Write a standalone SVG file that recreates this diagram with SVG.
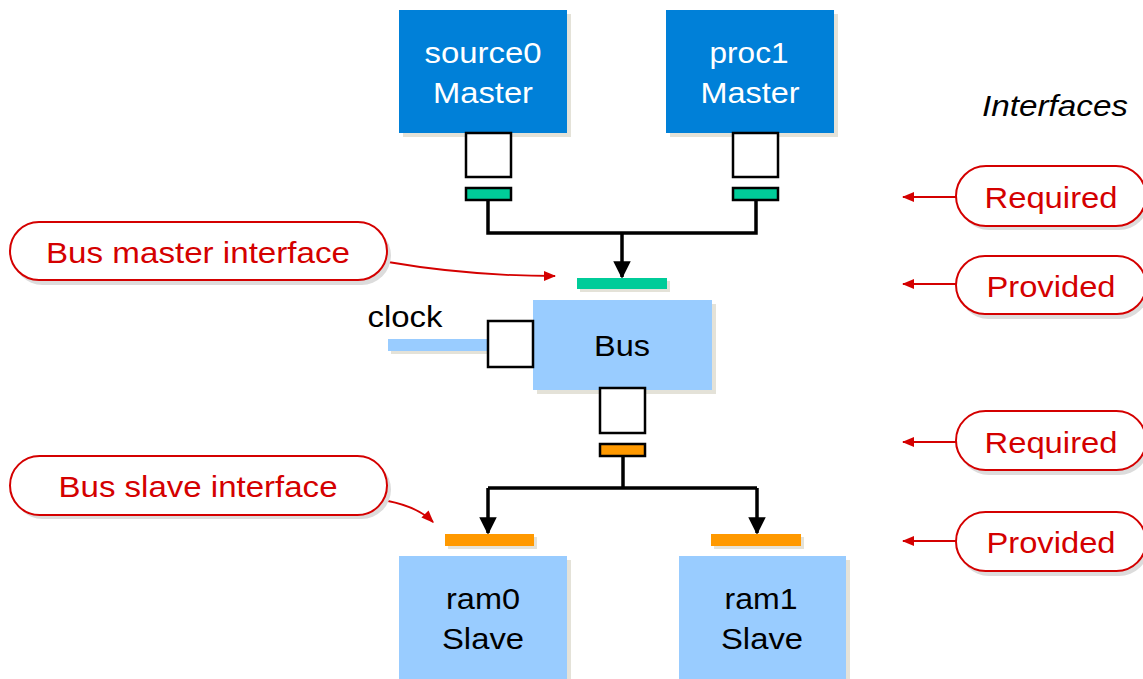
<svg xmlns="http://www.w3.org/2000/svg" width="1143" height="679" viewBox="0 0 1143 679">
<defs>
<style>
.t{font-family:"Liberation Sans",Arial,sans-serif;font-size:30px;text-anchor:middle}
.w{fill:#ffffff}
.k{fill:#000000}
.r{fill:#d40000}
.master{fill:#0080d8}
.slave{fill:#99ccff}
.sh{fill:#e4e2d8}
.port{fill:#ffffff;stroke:#000;stroke-width:2.5}
.gp{fill:#00cc99;stroke:#000;stroke-width:2.5}
.op{fill:#ff9900;stroke:#000;stroke-width:2.5}
.pill{fill:#fff;stroke:#d40000;stroke-width:2}
.pillsh{fill:#dcdcdc}
.wire{fill:none;stroke:#000;stroke-width:3.5}
.rw{fill:none;stroke:#d40000;stroke-width:1.8}
</style>
<marker id="ab" viewBox="0 0 10 10" refX="9" refY="5" markerWidth="5" markerHeight="5" orient="auto" markerUnits="strokeWidth"><path d="M0,0 L10,5 L0,10 z" fill="#000"/></marker>
<marker id="ar" viewBox="0 0 10 10" refX="9" refY="5" markerWidth="7" markerHeight="7" orient="auto" markerUnits="strokeWidth"><path d="M0,1 L10,5 L0,9 z" fill="#d40000"/></marker>
</defs>
<rect width="1143" height="679" fill="#fff"/>

<g id="connectors">
<path class="wire" d="M488,200 V233 H756 V200"/>
<path class="wire" d="M622,233 V277" marker-end="url(#ab)"/>
<path class="wire" d="M623,457 V488"/>
<path class="wire" d="M488,488 H757"/>
<path class="wire" d="M488,488 V533" marker-end="url(#ab)"/>
<path class="wire" d="M757,488 V533" marker-end="url(#ab)"/>
<path class="rw" d="M388,262 C440,271 490,276 555,276" marker-end="url(#ar)"/>
<path class="rw" d="M388,501 Q418,507 433,522" marker-end="url(#ar)"/>
<path class="rw" d="M956,197 H903" marker-end="url(#ar)"/>
<path class="rw" d="M956,284 H903" marker-end="url(#ar)"/>
<path class="rw" d="M956,442 H903" marker-end="url(#ar)"/>
<path class="rw" d="M956,541 H903" marker-end="url(#ar)"/>
</g>

<g id="source0">
<rect class="sh" x="403" y="14" width="168" height="123"/>
<rect class="master" x="399" y="10" width="168" height="123"/>
<text class="t w" x="483" y="63" textLength="117" lengthAdjust="spacingAndGlyphs">source0</text>
<text class="t w" x="483" y="103" textLength="100" lengthAdjust="spacingAndGlyphs">Master</text>
<rect class="port" x="466" y="133" width="45" height="44"/>
<rect class="gp" x="466" y="188" width="45" height="12"/>
</g>

<g id="proc1">
<rect class="sh" x="670" y="14" width="168" height="123"/>
<rect class="master" x="666" y="10" width="168" height="123"/>
<text class="t w" x="749" y="63" textLength="79" lengthAdjust="spacingAndGlyphs">proc1</text>
<text class="t w" x="750" y="103" textLength="99" lengthAdjust="spacingAndGlyphs">Master</text>
<rect class="port" x="733" y="133" width="45" height="44"/>
<rect class="gp" x="733" y="188" width="45" height="12"/>
</g>

<g id="bus">
<rect class="sh" x="580" y="281" width="90" height="11"/>
<rect x="577" y="278" width="90" height="11" fill="#00cc99"/>
<rect class="sh" x="537" y="304" width="179" height="90"/>
<rect class="slave" x="533" y="300" width="179" height="90"/>
<text class="t k" x="622" y="356" textLength="56" lengthAdjust="spacingAndGlyphs">Bus</text>
<rect class="sh" x="391" y="342" width="96" height="12"/>
<rect class="slave" x="388" y="339" width="99" height="12"/>
<rect class="port" x="488" y="321" width="45" height="46"/>
<text class="t k" x="405" y="327" textLength="75" lengthAdjust="spacingAndGlyphs">clock</text>
<rect class="port" x="600" y="388" width="45" height="45"/>
<rect class="op" x="600" y="444" width="45" height="12"/>
</g>

<g id="ram0">
<rect class="sh" x="448" y="537" width="89" height="12"/>
<rect x="445" y="534" width="89" height="12" fill="#ff9900"/>
<rect class="sh" x="403" y="560" width="168" height="123"/>
<rect class="slave" x="399" y="556" width="168" height="123"/>
<text class="t k" x="483" y="609" textLength="74" lengthAdjust="spacingAndGlyphs">ram0</text>
<text class="t k" x="483" y="649" textLength="82" lengthAdjust="spacingAndGlyphs">Slave</text>
</g>

<g id="ram1">
<rect class="sh" x="714" y="537" width="90" height="12"/>
<rect x="711" y="534" width="90" height="12" fill="#ff9900"/>
<rect class="sh" x="683" y="560" width="167" height="123"/>
<rect class="slave" x="679" y="556" width="167" height="123"/>
<text class="t k" x="761" y="609" textLength="73" lengthAdjust="spacingAndGlyphs">ram1</text>
<text class="t k" x="762" y="649" textLength="82" lengthAdjust="spacingAndGlyphs">Slave</text>
</g>

<g id="bus-master-interface">
<rect class="pillsh" x="13" y="226" width="378" height="59" rx="29.5"/>
<rect class="pill" x="10" y="222" width="377" height="58" rx="29"/>
<text class="t r" x="198" y="263" textLength="304" lengthAdjust="spacingAndGlyphs">Bus master interface</text>
</g>

<g id="bus-slave-interface">
<rect class="pillsh" x="13" y="460" width="378" height="59" rx="29.5"/>
<rect class="pill" x="10" y="456" width="377" height="59" rx="29.5"/>
<text class="t r" x="198" y="497" textLength="279" lengthAdjust="spacingAndGlyphs">Bus slave interface</text>
</g>

<g id="interfaces-title">
<text class="t k" x="1055" y="116" font-style="italic" textLength="146" lengthAdjust="spacingAndGlyphs">Interfaces</text>
</g>

<g id="required1">
<rect class="pillsh" x="959" y="170" width="190" height="60" rx="30"/>
<rect class="pill" x="956" y="166" width="190" height="60" rx="30"/>
<text class="t r" x="1051" y="208" textLength="133" lengthAdjust="spacingAndGlyphs">Required</text>
</g>
<g id="provided1">
<rect class="pillsh" x="959" y="260" width="190" height="59" rx="29.5"/>
<rect class="pill" x="956" y="256" width="190" height="58" rx="29"/>
<text class="t r" x="1051" y="297" textLength="129" lengthAdjust="spacingAndGlyphs">Provided</text>
</g>
<g id="required2">
<rect class="pillsh" x="959" y="415" width="190" height="60" rx="30"/>
<rect class="pill" x="956" y="411" width="190" height="59" rx="29.5"/>
<text class="t r" x="1051" y="453" textLength="133" lengthAdjust="spacingAndGlyphs">Required</text>
</g>
<g id="provided2">
<rect class="pillsh" x="959" y="516" width="190" height="60" rx="30"/>
<rect class="pill" x="956" y="512" width="190" height="59" rx="29.5"/>
<text class="t r" x="1051" y="553" textLength="129" lengthAdjust="spacingAndGlyphs">Provided</text>
</g>
</svg>
